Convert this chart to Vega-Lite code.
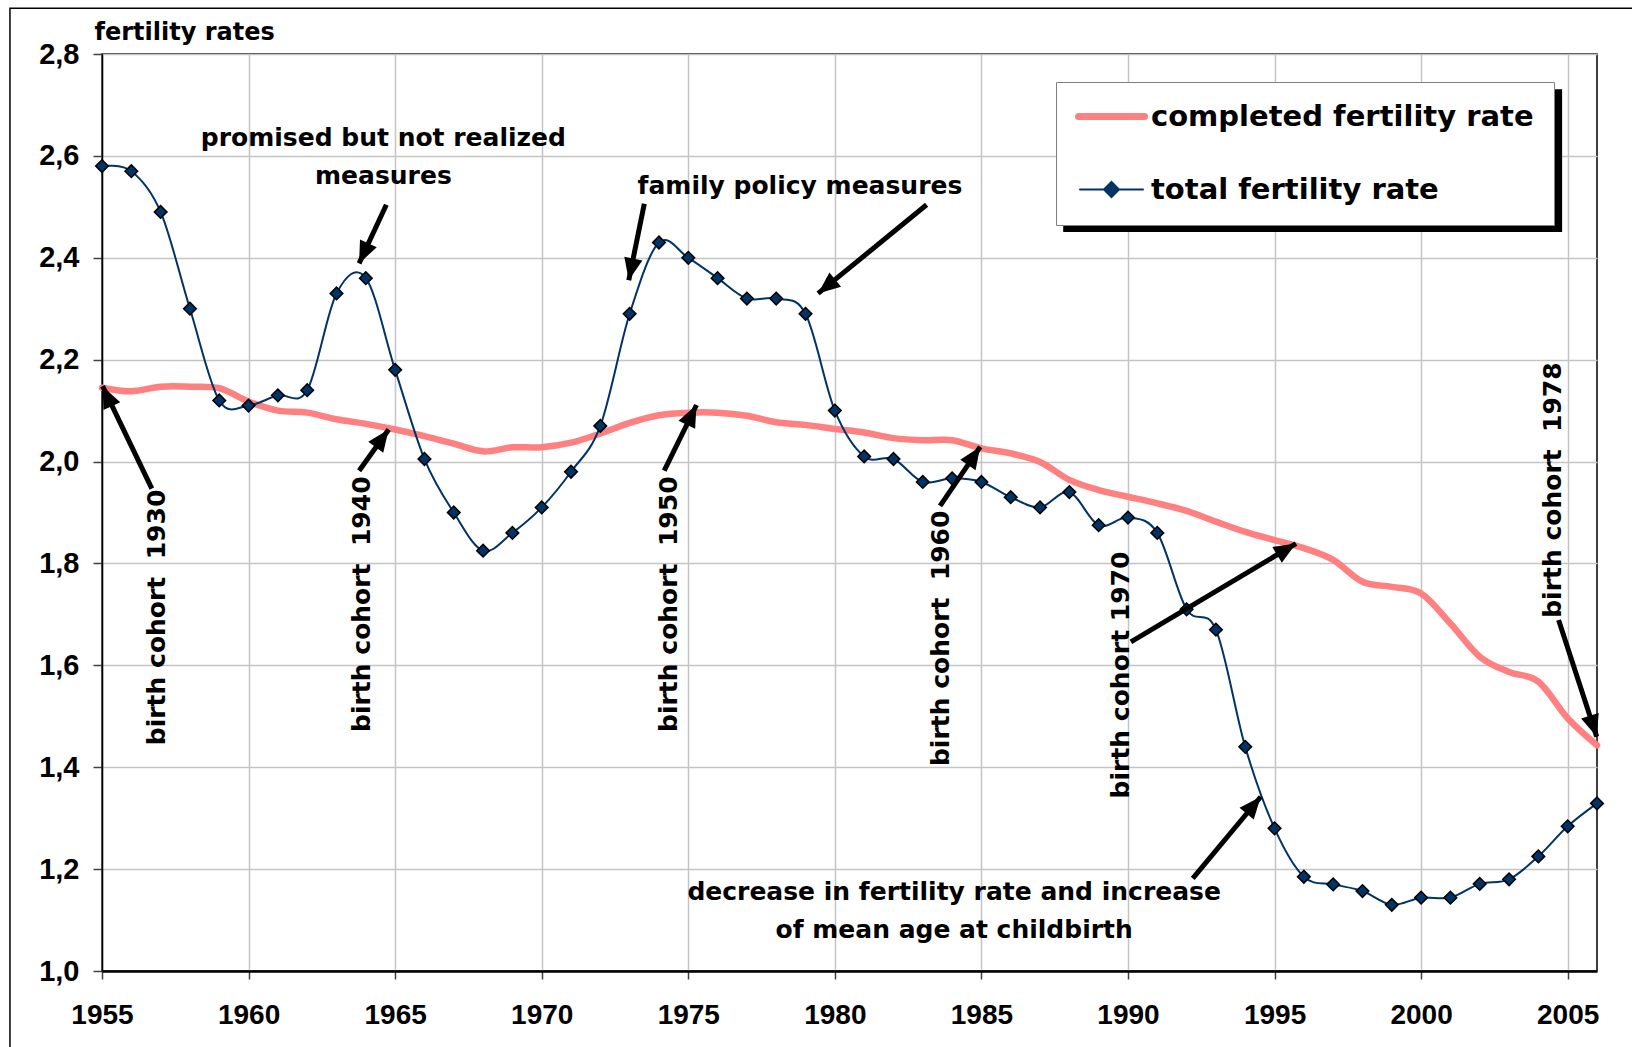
{
  "$schema": "https://vega.github.io/schema/vega-lite/v6.json",
  "width": 1495,
  "height": 917,
  "autosize": {"type": "none"},
  "padding": {"left": 102, "top": 54, "right": 35, "bottom": 76},
  "background": "white",
  "config": {
    "view": {"stroke": "black", "strokeWidth": 1.5},
    "axis": {
      "labelFont": "Liberation Sans",
      "labelFontWeight": "bold",
      "labelColor": "black",
      "gridColor": "#c4c4c4",
      "gridWidth": 1.5,
      "tickColor": "#404040",
      "tickWidth": 1.5,
      "domainColor": "black"
    }
  },
  "datasets": {
    "rates": [
      {"year": 1955, "completed fertility rate": 2.145, "total fertility rate": 2.58},
      {"year": 1956, "completed fertility rate": 2.138, "total fertility rate": 2.57},
      {"year": 1957, "completed fertility rate": 2.147, "total fertility rate": 2.49},
      {"year": 1958, "completed fertility rate": 2.147, "total fertility rate": 2.30},
      {"year": 1959, "completed fertility rate": 2.144, "total fertility rate": 2.12},
      {"year": 1960, "completed fertility rate": 2.118, "total fertility rate": 2.11},
      {"year": 1961, "completed fertility rate": 2.100, "total fertility rate": 2.13},
      {"year": 1962, "completed fertility rate": 2.096, "total fertility rate": 2.14},
      {"year": 1963, "completed fertility rate": 2.083, "total fertility rate": 2.33},
      {"year": 1964, "completed fertility rate": 2.074, "total fertility rate": 2.36},
      {"year": 1965, "completed fertility rate": 2.063, "total fertility rate": 2.18},
      {"year": 1966, "completed fertility rate": 2.050, "total fertility rate": 2.005},
      {"year": 1967, "completed fertility rate": 2.035, "total fertility rate": 1.90},
      {"year": 1968, "completed fertility rate": 2.020, "total fertility rate": 1.825},
      {"year": 1969, "completed fertility rate": 2.028, "total fertility rate": 1.86},
      {"year": 1970, "completed fertility rate": 2.028, "total fertility rate": 1.91},
      {"year": 1971, "completed fertility rate": 2.037, "total fertility rate": 1.98},
      {"year": 1972, "completed fertility rate": 2.055, "total fertility rate": 2.07},
      {"year": 1973, "completed fertility rate": 2.076, "total fertility rate": 2.29},
      {"year": 1974, "completed fertility rate": 2.091, "total fertility rate": 2.43},
      {"year": 1975, "completed fertility rate": 2.096, "total fertility rate": 2.40},
      {"year": 1976, "completed fertility rate": 2.096, "total fertility rate": 2.36},
      {"year": 1977, "completed fertility rate": 2.090, "total fertility rate": 2.32},
      {"year": 1978, "completed fertility rate": 2.077, "total fertility rate": 2.32},
      {"year": 1979, "completed fertility rate": 2.072, "total fertility rate": 2.29},
      {"year": 1980, "completed fertility rate": 2.064, "total fertility rate": 2.10},
      {"year": 1981, "completed fertility rate": 2.057, "total fertility rate": 2.01},
      {"year": 1982, "completed fertility rate": 2.046, "total fertility rate": 2.005},
      {"year": 1983, "completed fertility rate": 2.042, "total fertility rate": 1.96},
      {"year": 1984, "completed fertility rate": 2.042, "total fertility rate": 1.967},
      {"year": 1985, "completed fertility rate": 2.026, "total fertility rate": 1.96},
      {"year": 1986, "completed fertility rate": 2.016, "total fertility rate": 1.93},
      {"year": 1987, "completed fertility rate": 1.999, "total fertility rate": 1.91},
      {"year": 1988, "completed fertility rate": 1.964, "total fertility rate": 1.94},
      {"year": 1989, "completed fertility rate": 1.944, "total fertility rate": 1.875},
      {"year": 1990, "completed fertility rate": 1.931, "total fertility rate": 1.89},
      {"year": 1991, "completed fertility rate": 1.918, "total fertility rate": 1.86},
      {"year": 1992, "completed fertility rate": 1.903, "total fertility rate": 1.71},
      {"year": 1993, "completed fertility rate": 1.882, "total fertility rate": 1.67},
      {"year": 1994, "completed fertility rate": 1.862, "total fertility rate": 1.44},
      {"year": 1995, "completed fertility rate": 1.846, "total fertility rate": 1.28},
      {"year": 1996, "completed fertility rate": 1.830, "total fertility rate": 1.185},
      {"year": 1997, "completed fertility rate": 1.807, "total fertility rate": 1.17},
      {"year": 1998, "completed fertility rate": 1.764, "total fertility rate": 1.157},
      {"year": 1999, "completed fertility rate": 1.754, "total fertility rate": 1.13},
      {"year": 2000, "completed fertility rate": 1.741, "total fertility rate": 1.144},
      {"year": 2001, "completed fertility rate": 1.682, "total fertility rate": 1.144},
      {"year": 2002, "completed fertility rate": 1.617, "total fertility rate": 1.171},
      {"year": 2003, "completed fertility rate": 1.587, "total fertility rate": 1.18},
      {"year": 2004, "completed fertility rate": 1.568, "total fertility rate": 1.225},
      {"year": 2005, "completed fertility rate": 1.496, "total fertility rate": 1.284},
      {"year": 2006, "completed fertility rate": 1.443, "total fertility rate": 1.329}
    ],
    "arrows": [
      {"x1": 1964.70, "y1": 2.504, "x2": 1963.77, "y2": 2.389, "heading": 205},
      {"x1": 1973.50, "y1": 2.506, "x2": 1972.97, "y2": 2.356, "heading": 192},
      {"x1": 1983.13, "y1": 2.504, "x2": 1979.43, "y2": 2.330, "heading": 231},
      {"x1": 1956.70, "y1": 1.947, "x2": 1955.02, "y2": 2.148, "heading": 335},
      {"x1": 1963.77, "y1": 1.982, "x2": 1964.78, "y2": 2.063, "heading": 36},
      {"x1": 1974.18, "y1": 1.982, "x2": 1975.28, "y2": 2.111, "heading": 26},
      {"x1": 1983.59, "y1": 1.913, "x2": 1984.96, "y2": 2.029, "heading": 34},
      {"x1": 1990.10, "y1": 1.646, "x2": 1995.73, "y2": 1.839, "heading": 59},
      {"x1": 2004.69, "y1": 1.689, "x2": 2005.99, "y2": 1.460, "heading": 162},
      {"x1": 1992.21, "y1": 1.182, "x2": 1994.53, "y2": 1.342, "heading": 40}
    ],
    "notes": [
      {"tx": 1964.60, "ty": 2.619, "label": "promised but not realized\nmeasures"},
      {"tx": 1978.81, "ty": 2.525, "label": "family policy measures"},
      {"tx": 1984.07, "ty": 1.139, "label": "decrease in fertility rate and increase\nof mean age at childbirth"}
    ],
    "cohorts": [
      {"tx": 1957.15, "ty": 1.694, "label": "birth cohort\u00a0 1930"},
      {"tx": 1964.13, "ty": 1.720, "label": "birth cohort\u00a0 1940"},
      {"tx": 1974.63, "ty": 1.720, "label": "birth cohort\u00a0 1950"},
      {"tx": 1983.90, "ty": 1.653, "label": "birth cohort\u00a0 1960"},
      {"tx": 1990.03, "ty": 1.581, "label": "birth cohort 1970"},
      {"tx": 2004.76, "ty": 1.944, "label": "birth cohort\u00a0 1978"}
    ]
  },
  "layer": [
    {
      "data": {"name": "rates"},
      "transform": [
        {"fold": ["completed fertility rate", "total fertility rate"], "as": ["series", "value"]},
        {"filter": "datum.series === 'completed fertility rate'"}
      ],
      "mark": {"type": "line", "strokeWidth": 6.5, "interpolate": "cardinal", "strokeCap": "round", "strokeJoin": "round"},
      "encoding": {
        "x": {
          "field": "year", "type": "quantitative",
          "scale": {"domain": [1955, 2006], "nice": false, "zero": false},
          "axis": {
            "values": [1955, 1960, 1965, 1970, 1975, 1980, 1985, 1990, 1995, 2000, 2005],
            "format": "d", "title": null, "labelFontSize": 28, "tickSize": 8,
            "labelPadding": 22, "domainWidth": 2.5, "labelFlush": false, "labelOverlap": false
          }
        },
        "y": {
          "field": "value", "type": "quantitative",
          "scale": {"domain": [1, 2.8], "nice": false, "zero": false},
          "axis": {
            "values": [1, 1.2, 1.4, 1.6, 1.8, 2, 2.2, 2.4, 2.6, 2.8],
            "labelExpr": "replace(format(datum.value, '.1f'), '.', ',')",
            "labelFontSize": 29, "tickSize": 9, "labelPadding": 14, "domainWidth": 1.5,
            "labelFlush": false, "labelOverlap": false,
            "title": "fertility rates", "titleAngle": 0, "titleAlign": "left", "titleBaseline": "alphabetic",
            "titleX": -8, "titleY": -15, "titleFont": "DejaVu Sans", "titleFontSize": 24,
            "titleFontWeight": "bold", "titleColor": "black"
          }
        },
        "color": {
          "field": "series", "type": "nominal",
          "scale": {"domain": ["completed fertility rate", "total fertility rate"], "range": ["#ff8080", "#003366"]},
          "legend": {
            "orient": "none", "legendX": 954, "legendY": 28, "title": null,
            "fillColor": "white", "strokeColor": "#808080", "padding": 20, "rowPadding": 43,
            "symbolSize": 900, "symbolOffset": 21, "labelOffset": 25, "symbolStrokeWidth": 2,
            "labelFont": "DejaVu Sans", "labelFontWeight": "bold", "labelFontSize": 29,
            "labelColor": "black", "labelLimit": 0,
            "encode": {
              "symbols": {
                "update": {
                  "shape": {"signal": "datum.value === 'completed fertility rate' ? 'M-2.2,0H2.2' : 'M-2.1,0H-0.5M0.5,0H2.1M-0.5,0L0,-0.5L0.5,0L0,0.5Z'"},
                  "stroke": {"signal": "datum.value === 'completed fertility rate' ? '#ff8080' : '#0b2f5b'"},
                  "strokeWidth": {"signal": "datum.value === 'completed fertility rate' ? 7 : 2"},
                  "fill": {"signal": "datum.value === 'completed fertility rate' ? 'transparent' : '#003366'"},
                  "strokeCap": {"value": "round"},
                  "opacity": {"value": 1}
                }
              }
            }
          }
        }
      }
    },
    {
      "data": {"name": "rates"},
      "transform": [
        {"fold": ["completed fertility rate", "total fertility rate"], "as": ["series", "value"]},
        {"filter": "datum.series === 'total fertility rate'"}
      ],
      "mark": {"type": "line", "strokeWidth": 2, "interpolate": "cardinal"},
      "encoding": {
        "x": {"field": "year", "type": "quantitative"},
        "y": {"field": "value", "type": "quantitative"},
        "color": {"field": "series", "type": "nominal"}
      }
    },
    {
      "data": {"name": "rates"},
      "transform": [
        {"fold": ["completed fertility rate", "total fertility rate"], "as": ["series", "value"]},
        {"filter": "datum.series === 'total fertility rate'"}
      ],
      "mark": {"type": "point", "shape": "diamond", "size": 160, "filled": true, "fill": "#003366", "stroke": "black", "strokeWidth": 1.5, "opacity": 1},
      "encoding": {
        "x": {"field": "year", "type": "quantitative"},
        "y": {"field": "value", "type": "quantitative"}
      }
    },
    {
      "data": {"name": "arrows"},
      "mark": {"type": "rule", "strokeWidth": 5, "color": "black", "strokeCap": "butt"},
      "encoding": {
        "x": {"field": "x1", "type": "quantitative"},
        "y": {"field": "y1", "type": "quantitative"},
        "x2": {"field": "x2"},
        "y2": {"field": "y2"}
      }
    },
    {
      "data": {"name": "arrows"},
      "mark": {"type": "point", "shape": "M0,0L-0.42,1L0.42,1Z", "size": 1936, "filled": true, "color": "black", "opacity": 1, "strokeWidth": 0},
      "encoding": {
        "x": {"field": "x2", "type": "quantitative"},
        "y": {"field": "y2", "type": "quantitative"},
        "angle": {"field": "heading", "type": "quantitative", "scale": null}
      }
    },
    {
      "data": {"name": "notes"},
      "mark": {"type": "text", "font": "DejaVu Sans", "fontWeight": "bold", "fontSize": 25, "align": "center", "baseline": "alphabetic", "lineBreak": "\n", "lineHeight": 38, "color": "black"},
      "encoding": {
        "x": {"field": "tx", "type": "quantitative"},
        "y": {"field": "ty", "type": "quantitative"},
        "text": {"field": "label"}
      }
    },
    {
      "data": {"name": "cohorts"},
      "mark": {"type": "text", "font": "DejaVu Sans", "fontWeight": "bold", "fontSize": 25, "align": "center", "baseline": "alphabetic", "angle": 270, "color": "black"},
      "encoding": {
        "x": {"field": "tx", "type": "quantitative"},
        "y": {"field": "ty", "type": "quantitative"},
        "text": {"field": "label"}
      }
    },
    {
      "data": {"values": [{}]},
      "mark": {"type": "rect", "color": "black"},
      "encoding": {
        "x": {"datum": 1987.79, "type": "quantitative"},
        "x2": {"datum": 2004.81},
        "y": {"datum": 2.731, "type": "quantitative"},
        "y2": {"datum": 2.4506}
      }
    },
    {
      "data": {"values": [{}]},
      "mark": {"type": "rect", "fill": null, "filled": false, "stroke": "black", "strokeWidth": 1.5, "clip": false},
      "encoding": {
        "x": {"datum": 1951.86, "type": "quantitative"},
        "x2": {"datum": 2007.6},
        "y": {"datum": 2.890, "type": "quantitative"},
        "y2": {"datum": 0.84}
      }
    }
  ]
}
